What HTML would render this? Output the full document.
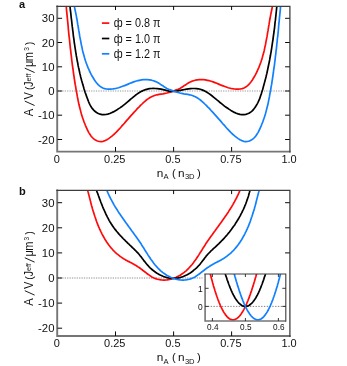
<!DOCTYPE html>
<html><head><meta charset="utf-8"><title>figure</title>
<style>html,body{margin:0;padding:0;background:#fff;}body{width:347px;height:366px;overflow:hidden;font-family:"Liberation Sans",sans-serif;}</style>
</head><body>
<svg width="347" height="366" viewBox="0 0 347 366" style="display:block;will-change:transform;transform:translateZ(0)">
<rect width="347" height="366" fill="#fff"/>
<clipPath id="ca"><rect x="57.5" y="6.0" width="232.2" height="145.6"/></clipPath>
<line x1="57.5" y1="91.0" x2="289.7" y2="91.0" stroke="#9a9a9a" stroke-width="1.05" stroke-dasharray="1.25,1.15"/>
<g clip-path="url(#ca)" fill="none" stroke-width="1.7" stroke-linejoin="round">
<path d="M65.9,2.6 66.3,6.5 66.4,8.6 66.6,10.6 66.8,12.6 67.0,14.6 67.2,16.6 67.4,18.6 67.6,20.6 67.8,22.6 68.0,24.6 68.2,26.6 68.3,28.6 68.5,30.6 68.7,32.6 68.9,34.6 69.1,36.6 69.4,38.6 69.6,40.6 69.8,42.6 70.0,44.6 70.2,46.6 70.4,48.6 70.7,50.6 70.9,52.6 71.1,54.6 71.4,56.6 71.6,58.6 71.8,60.6 72.1,62.6 72.3,64.6 72.6,66.5 72.9,68.5 73.2,70.5 73.4,72.5 73.7,74.5 74.0,76.5 74.3,78.5 74.6,80.5 74.9,82.5 75.2,84.5 75.6,86.4 75.9,88.4 76.2,90.4 76.6,92.4 77.0,94.4 77.3,96.4 77.7,98.3 78.1,100.3 78.5,102.3 78.9,104.3 79.4,106.2 79.9,108.2 80.4,110.1 80.9,112.1 81.4,114.0 82.0,115.9 82.6,117.8 83.3,119.7 83.9,121.6 84.7,123.5 85.4,125.3 86.2,127.2 87.0,129.0 87.9,130.8 88.8,132.6 89.9,134.3 91.0,136.0 92.3,137.5 93.8,138.9 95.5,140.1 97.3,141.0 99.3,141.5 101.3,141.6 103.2,141.3 105.1,140.6 106.9,139.7 108.6,138.6 110.3,137.4 111.9,136.1 113.4,134.8 114.9,133.5 116.3,132.1 117.7,130.6 119.1,129.2 120.4,127.7 121.7,126.2 123.1,124.7 124.4,123.2 125.7,121.6 127.0,120.1 128.4,118.6 129.7,117.1 131.0,115.6 132.4,114.1 133.7,112.6 135.1,111.2 136.4,109.7 137.8,108.2 139.2,106.8 140.5,105.4 142.0,104.0 143.4,102.6 144.9,101.3 146.4,100.0 148.0,98.9 149.7,97.8 151.5,96.8 153.3,96.0 155.2,95.3 157.1,94.8 159.0,94.4 161.0,94.1 163.0,93.8 165.0,93.4 166.9,93.0 168.9,92.5 170.8,91.9 172.7,91.3 174.6,90.6 176.4,89.9 178.2,89.2 179.9,88.4 181.5,87.5 183.0,86.5 184.5,85.4 186.2,84.4 187.9,83.3 189.6,82.3 191.5,81.4 193.4,80.7 195.3,80.2 197.3,79.8 199.3,79.6 201.3,79.6 203.4,79.7 205.4,79.9 207.4,80.3 209.3,80.7 211.2,81.3 213.1,81.9 214.9,82.6 216.8,83.3 218.6,84.1 220.4,84.9 222.3,85.6 224.2,86.3 226.2,87.0 228.2,87.7 230.2,88.2 232.2,88.7 234.3,89.0 236.3,89.1 238.3,89.2 240.3,89.0 242.2,88.6 244.0,88.0 245.7,87.1 247.3,85.9 248.7,84.6 250.1,83.0 251.3,81.4 252.5,79.7 253.5,78.0 254.6,76.3 255.5,74.6 256.4,72.8 257.3,71.0 258.1,69.2 258.9,67.4 259.6,65.5 260.3,63.7 261.0,61.8 261.6,59.9 262.2,58.0 262.7,56.0 263.3,54.1 263.8,52.2 264.3,50.2 264.7,48.2 265.1,46.2 265.6,44.2 265.9,42.2 266.3,40.2 266.7,38.2 267.1,36.2 267.4,34.2 267.7,32.2 268.1,30.2 268.4,28.2 268.7,26.2 269.1,24.2 269.4,22.2 269.7,20.2 270.1,18.3 270.4,16.3 270.8,14.3 271.2,12.4 271.6,10.5 272.0,8.5 272.4,6.6 273.3,2.7" stroke="#ff0a0a"/>
<path d="M69.5,2.6 70.0,6.6 70.2,8.5 70.4,10.5 70.7,12.4 70.9,14.4 71.1,16.4 71.3,18.3 71.6,20.3 71.8,22.3 72.0,24.2 72.2,26.2 72.5,28.2 72.7,30.1 73.0,32.1 73.2,34.1 73.4,36.1 73.7,38.0 74.0,40.0 74.2,42.0 74.5,43.9 74.8,45.9 75.1,47.9 75.4,49.8 75.7,51.8 76.0,53.7 76.3,55.7 76.7,57.6 77.0,59.6 77.4,61.5 77.8,63.5 78.1,65.4 78.5,67.4 79.0,69.3 79.4,71.2 79.8,73.2 80.3,75.1 80.7,77.0 81.2,78.9 81.7,80.8 82.3,82.7 82.8,84.6 83.4,86.5 83.9,88.4 84.5,90.3 85.1,92.2 85.8,94.1 86.4,95.9 87.1,97.8 87.8,99.6 88.5,101.5 89.3,103.3 90.2,105.1 91.1,106.8 92.2,108.4 93.5,109.9 94.9,111.3 96.5,112.5 98.3,113.5 100.1,114.2 102.0,114.6 103.9,114.7 105.9,114.5 107.8,114.1 109.7,113.5 111.5,112.7 113.3,111.9 115.0,110.9 116.7,110.0 118.3,108.9 119.9,107.9 121.5,106.8 123.0,105.6 124.6,104.4 126.1,103.1 127.6,101.8 129.2,100.5 130.7,99.2 132.3,97.9 133.8,96.6 135.4,95.3 137.0,94.1 138.6,93.0 140.3,92.0 142.0,91.1 143.8,90.3 145.6,89.6 147.5,89.1 149.4,88.7 151.3,88.5 153.3,88.4 155.2,88.5 157.2,88.6 159.2,88.8 161.2,89.2 163.2,89.6 165.2,90.1 167.1,90.6 169.0,91.1 171.0,91.4 172.9,91.5 174.8,91.4 176.7,91.1 178.7,90.7 180.6,90.3 182.6,89.9 184.6,89.5 186.6,89.1 188.6,88.8 190.6,88.6 192.6,88.5 194.5,88.5 196.5,88.6 198.4,88.8 200.2,89.3 202.1,89.9 203.8,90.6 205.6,91.5 207.3,92.5 209.0,93.6 210.6,94.8 212.2,96.0 213.8,97.3 215.4,98.6 216.9,99.9 218.5,101.2 220.0,102.5 221.5,103.7 223.0,104.9 224.5,106.1 226.1,107.2 227.7,108.3 229.3,109.4 230.9,110.4 232.7,111.4 234.4,112.4 236.3,113.2 238.1,113.9 240.0,114.4 241.9,114.7 243.9,114.7 245.8,114.4 247.6,113.8 249.4,113.0 251.0,111.9 252.5,110.6 253.8,109.1 255.0,107.5 256.1,105.8 257.1,104.1 258.0,102.3 258.8,100.6 259.6,98.9 260.2,97.1 260.8,95.3 261.4,93.6 261.9,91.8 262.5,90.0 263.0,88.2 263.5,86.3 264.0,84.5 264.5,82.6 265.0,80.8 265.5,78.9 266.0,77.0 266.4,75.1 266.9,73.2 267.3,71.3 267.7,69.4 268.1,67.5 268.5,65.5 268.9,63.6 269.3,61.7 269.7,59.7 270.0,57.7 270.4,55.8 270.7,53.8 271.1,51.8 271.4,49.9 271.7,47.9 272.0,45.9 272.3,43.9 272.6,41.9 272.9,40.0 273.2,38.0 273.4,36.0 273.7,34.0 274.0,32.0 274.2,30.1 274.5,28.1 274.7,26.1 274.9,24.1 275.1,22.2 275.4,20.2 275.6,18.2 275.8,16.3 276.0,14.3 276.2,12.4 276.4,10.5 276.6,8.5 276.8,6.6 277.1,2.6" stroke="#000"/>
<path d="M73.5,2.7 74.4,6.6 74.8,8.5 75.2,10.5 75.6,12.4 76.0,14.3 76.4,16.3 76.7,18.3 77.1,20.2 77.4,22.2 77.7,24.2 78.1,26.2 78.4,28.2 78.7,30.2 79.1,32.2 79.4,34.2 79.7,36.2 80.1,38.2 80.5,40.2 80.9,42.2 81.2,44.2 81.7,46.2 82.1,48.2 82.5,50.2 83.0,52.2 83.5,54.1 84.1,56.0 84.6,58.0 85.2,59.9 85.8,61.8 86.5,63.7 87.2,65.5 87.9,67.4 88.7,69.2 89.5,71.0 90.4,72.8 91.3,74.6 92.2,76.3 93.3,78.0 94.3,79.7 95.5,81.4 96.7,83.0 98.1,84.6 99.5,85.9 101.1,87.1 102.8,88.0 104.6,88.6 106.5,89.0 108.5,89.2 110.5,89.1 112.5,89.0 114.6,88.7 116.6,88.2 118.6,87.7 120.6,87.0 122.6,86.3 124.5,85.6 126.4,84.9 128.2,84.1 130.0,83.3 131.9,82.6 133.7,81.9 135.6,81.3 137.5,80.7 139.4,80.3 141.4,79.9 143.4,79.7 145.5,79.6 147.5,79.6 149.5,79.8 151.5,80.2 153.4,80.7 155.3,81.4 157.2,82.3 158.9,83.3 160.6,84.4 162.3,85.4 163.8,86.5 165.3,87.5 166.9,88.4 168.6,89.2 170.4,89.9 172.2,90.6 174.1,91.3 176.0,91.9 177.9,92.5 179.9,93.0 181.8,93.4 183.8,93.8 185.8,94.1 187.8,94.4 189.7,94.8 191.6,95.3 193.5,96.0 195.3,96.8 197.1,97.8 198.8,98.9 200.4,100.0 201.9,101.3 203.4,102.6 204.8,104.0 206.3,105.4 207.6,106.8 209.0,108.2 210.4,109.7 211.7,111.2 213.1,112.6 214.4,114.1 215.8,115.6 217.1,117.1 218.4,118.6 219.8,120.1 221.1,121.6 222.4,123.2 223.7,124.7 225.1,126.2 226.4,127.7 227.7,129.2 229.1,130.6 230.5,132.1 231.9,133.5 233.4,134.8 234.9,136.1 236.5,137.4 238.2,138.6 239.9,139.7 241.7,140.6 243.6,141.3 245.5,141.6 247.5,141.5 249.5,141.0 251.3,140.1 253.0,138.9 254.5,137.5 255.8,136.0 256.9,134.3 258.0,132.6 258.9,130.8 259.8,129.0 260.6,127.2 261.4,125.3 262.1,123.5 262.9,121.6 263.5,119.7 264.2,117.8 264.8,115.9 265.4,114.0 265.9,112.1 266.4,110.1 266.9,108.2 267.4,106.2 267.9,104.3 268.3,102.3 268.7,100.3 269.1,98.3 269.5,96.4 269.8,94.4 270.2,92.4 270.6,90.4 270.9,88.4 271.2,86.4 271.6,84.5 271.9,82.5 272.2,80.5 272.5,78.5 272.8,76.5 273.1,74.5 273.4,72.5 273.6,70.5 273.9,68.5 274.2,66.5 274.5,64.6 274.7,62.6 275.0,60.6 275.2,58.6 275.4,56.6 275.7,54.6 275.9,52.6 276.1,50.6 276.4,48.6 276.6,46.6 276.8,44.6 277.0,42.6 277.2,40.6 277.4,38.6 277.7,36.6 277.9,34.6 278.1,32.6 278.3,30.6 278.5,28.6 278.6,26.6 278.8,24.6 279.0,22.6 279.2,20.6 279.4,18.6 279.6,16.6 279.8,14.6 280.0,12.6 280.2,10.6 280.4,8.6 280.5,6.5 280.9,2.6" stroke="#1080ff"/>
</g>
<path d="M57.2,5.4 V151.6 H290.59999999999997" fill="none" stroke="#757575" stroke-width="1.9"/>
<path d="M56.3,6.25 H289.9 V152.5" fill="none" stroke="#3c3c3c" stroke-width="1.25"/>
<line x1="57.5" y1="18.3" x2="62.1" y2="18.3" stroke="#0a0a0a" stroke-width="1.0"/>
<line x1="289.7" y1="18.3" x2="285.09999999999997" y2="18.3" stroke="#0a0a0a" stroke-width="1.0"/>
<text x="54.5" y="22.4" text-anchor="end" font-size="11.8" textLength="12.66" lengthAdjust="spacingAndGlyphs" font-family="Liberation Sans, sans-serif" fill="#111">30</text>
<line x1="57.5" y1="42.5" x2="62.1" y2="42.5" stroke="#0a0a0a" stroke-width="1.0"/>
<line x1="289.7" y1="42.5" x2="285.09999999999997" y2="42.5" stroke="#0a0a0a" stroke-width="1.0"/>
<text x="54.5" y="46.6" text-anchor="end" font-size="11.8" textLength="12.66" lengthAdjust="spacingAndGlyphs" font-family="Liberation Sans, sans-serif" fill="#111">20</text>
<line x1="57.5" y1="66.8" x2="62.1" y2="66.8" stroke="#0a0a0a" stroke-width="1.0"/>
<line x1="289.7" y1="66.8" x2="285.09999999999997" y2="66.8" stroke="#0a0a0a" stroke-width="1.0"/>
<text x="54.5" y="70.9" text-anchor="end" font-size="11.8" textLength="12.66" lengthAdjust="spacingAndGlyphs" font-family="Liberation Sans, sans-serif" fill="#111">10</text>
<line x1="57.5" y1="91.0" x2="62.1" y2="91.0" stroke="#0a0a0a" stroke-width="1.0"/>
<line x1="289.7" y1="91.0" x2="285.09999999999997" y2="91.0" stroke="#0a0a0a" stroke-width="1.0"/>
<text x="54.5" y="95.1" text-anchor="end" font-size="11.8" textLength="6.33" lengthAdjust="spacingAndGlyphs" font-family="Liberation Sans, sans-serif" fill="#111">0</text>
<line x1="57.5" y1="115.2" x2="62.1" y2="115.2" stroke="#0a0a0a" stroke-width="1.0"/>
<line x1="289.7" y1="115.2" x2="285.09999999999997" y2="115.2" stroke="#0a0a0a" stroke-width="1.0"/>
<text x="54.5" y="119.3" text-anchor="end" font-size="11.8" textLength="16.45" lengthAdjust="spacingAndGlyphs" font-family="Liberation Sans, sans-serif" fill="#111">-10</text>
<line x1="57.5" y1="139.5" x2="62.1" y2="139.5" stroke="#0a0a0a" stroke-width="1.0"/>
<line x1="289.7" y1="139.5" x2="285.09999999999997" y2="139.5" stroke="#0a0a0a" stroke-width="1.0"/>
<text x="54.5" y="143.6" text-anchor="end" font-size="11.8" textLength="16.45" lengthAdjust="spacingAndGlyphs" font-family="Liberation Sans, sans-serif" fill="#111">-20</text>
<text x="56.8" y="163.4" text-anchor="middle" font-size="11.8" textLength="6.10" lengthAdjust="spacingAndGlyphs" font-family="Liberation Sans, sans-serif" fill="#111">0</text>
<line x1="115.5" y1="151.6" x2="115.5" y2="147.0" stroke="#0a0a0a" stroke-width="1.0"/>
<line x1="115.5" y1="6.0" x2="115.5" y2="10.0" stroke="#0a0a0a" stroke-width="1.0"/>
<text x="114.8" y="163.4" text-anchor="middle" font-size="11.8" textLength="21.36" lengthAdjust="spacingAndGlyphs" font-family="Liberation Sans, sans-serif" fill="#111">0.25</text>
<line x1="173.6" y1="151.6" x2="173.6" y2="147.0" stroke="#0a0a0a" stroke-width="1.0"/>
<line x1="173.6" y1="6.0" x2="173.6" y2="10.0" stroke="#0a0a0a" stroke-width="1.0"/>
<text x="172.9" y="163.4" text-anchor="middle" font-size="11.8" textLength="15.25" lengthAdjust="spacingAndGlyphs" font-family="Liberation Sans, sans-serif" fill="#111">0.5</text>
<line x1="231.6" y1="151.6" x2="231.6" y2="147.0" stroke="#0a0a0a" stroke-width="1.0"/>
<line x1="231.6" y1="6.0" x2="231.6" y2="10.0" stroke="#0a0a0a" stroke-width="1.0"/>
<text x="230.9" y="163.4" text-anchor="middle" font-size="11.8" textLength="21.36" lengthAdjust="spacingAndGlyphs" font-family="Liberation Sans, sans-serif" fill="#111">0.75</text>
<text x="289.0" y="163.4" text-anchor="middle" font-size="11.8" textLength="15.25" lengthAdjust="spacingAndGlyphs" font-family="Liberation Sans, sans-serif" fill="#111">1.0</text>
<text x="160.1" y="176.6" text-anchor="middle" font-size="11.8" font-family="Liberation Sans, sans-serif" fill="#111">n</text>
<text x="166.0" y="179.2" text-anchor="middle" font-size="7.6" font-family="Liberation Sans, sans-serif" fill="#111">A</text>
<text x="173.8" y="176.6" text-anchor="middle" font-size="11.4" font-family="Liberation Sans, sans-serif" fill="#111">(</text>
<text x="181.3" y="176.6" text-anchor="middle" font-size="11.8" font-family="Liberation Sans, sans-serif" fill="#111">n</text>
<text x="189.75" y="179.2" text-anchor="middle" font-size="7.6" font-family="Liberation Sans, sans-serif" fill="#111">3D</text>
<text x="198.85" y="176.6" text-anchor="middle" font-size="11.4" font-family="Liberation Sans, sans-serif" fill="#111">)</text>
<text transform="translate(33.2,112.5) rotate(-90) scale(0.91,1)" text-anchor="middle" font-size="12.2" font-family="Liberation Sans, sans-serif" fill="#111">A</text>
<text transform="translate(33.2,95.7) rotate(-90) scale(0.91,1)" text-anchor="middle" font-size="12.2" font-family="Liberation Sans, sans-serif" fill="#111">V</text>
<text transform="translate(33.2,88.2) rotate(-90) scale(0.91,1)" text-anchor="middle" font-size="11.6" font-family="Liberation Sans, sans-serif" fill="#111">(</text>
<text transform="translate(33.2,84.2) rotate(-90) scale(0.91,1)" text-anchor="middle" font-size="12.2" font-family="Liberation Sans, sans-serif" fill="#111">J</text>
<text transform="translate(30.5,77.5) rotate(-90) scale(0.91,1)" text-anchor="middle" font-size="8.0" font-family="Liberation Sans, sans-serif" fill="#111">eff</text>
<text transform="translate(33.2,63.8) rotate(-90) scale(0.91,1)" text-anchor="middle" font-size="12.2" font-family="Liberation Sans, sans-serif" fill="#111">μ</text>
<text transform="translate(33.2,56.5) rotate(-90) scale(0.91,1)" text-anchor="middle" font-size="12.2" font-family="Liberation Sans, sans-serif" fill="#111">m</text>
<text transform="translate(28.9,49.0) rotate(-90) scale(0.91,1)" text-anchor="middle" font-size="7.2" font-family="Liberation Sans, sans-serif" fill="#111">3</text>
<text transform="translate(33.2,43.5) rotate(-90) scale(0.91,1)" text-anchor="middle" font-size="11.6" font-family="Liberation Sans, sans-serif" fill="#111">)</text>
<line x1="34.6" y1="105.50" x2="24.8" y2="101.10" stroke="#111" stroke-width="0.95"/>
<line x1="34.6" y1="72.55" x2="24.8" y2="68.15" stroke="#111" stroke-width="0.95"/>
<clipPath id="cb"><rect x="57.5" y="190.1" width="232.2" height="145.9"/></clipPath>
<line x1="57.5" y1="278.0" x2="202.5" y2="278.0" stroke="#6a6a6a" stroke-width="0.75" stroke-dasharray="1.25,1.15"/>
<g clip-path="url(#cb)" fill="none" stroke-width="1.7" stroke-linejoin="round">
<path d="M87.0,187.4 87.9,191.3 88.2,192.4 88.5,193.6 88.8,194.7 89.1,195.9 89.4,197.1 89.7,198.2 90.0,199.4 90.3,200.6 90.6,201.8 90.9,203.0 91.2,204.2 91.5,205.4 91.9,206.6 92.2,207.8 92.5,209.0 92.9,210.2 93.3,211.4 93.6,212.6 94.0,213.8 94.4,215.0 94.8,216.2 95.2,217.3 95.6,218.5 96.0,219.7 96.4,220.9 96.8,222.1 97.3,223.3 97.7,224.4 98.2,225.6 98.7,226.8 99.2,227.9 99.7,229.1 100.2,230.2 100.7,231.3 101.3,232.4 101.8,233.6 102.4,234.7 103.0,235.7 103.5,236.8 104.2,237.9 104.8,239.0 105.4,240.0 106.1,241.0 106.7,242.0 107.4,243.1 108.1,244.0 108.8,245.0 109.6,246.0 110.3,246.9 111.1,247.9 111.9,248.8 112.7,249.7 113.5,250.6 114.4,251.4 115.2,252.3 116.1,253.1 117.0,253.9 118.0,254.7 118.9,255.4 119.9,256.2 120.9,256.9 121.9,257.6 122.9,258.3 124.0,258.9 125.0,259.6 126.1,260.2 127.2,260.8 128.3,261.4 129.5,261.9 130.6,262.5 131.7,263.1 132.8,263.7 133.9,264.3 135.0,264.9 136.0,265.5 137.1,266.2 138.1,266.9 139.1,267.5 140.1,268.2 141.1,269.0 142.1,269.7 143.0,270.5 144.0,271.2 145.0,272.0 145.9,272.7 146.9,273.5 147.9,274.2 148.9,274.9 149.9,275.6 150.9,276.3 151.9,276.9 153.0,277.5 154.0,278.0 155.1,278.4 156.3,278.9 157.4,279.2 158.6,279.5 159.8,279.7 161.0,279.9 162.2,280.0 163.4,280.1 164.7,280.1 165.9,280.0 167.1,279.9 168.4,279.7 169.6,279.4 170.9,279.1 172.1,278.8 173.3,278.4 174.5,277.9 175.7,277.5 176.8,276.9 178.0,276.4 179.1,275.8 180.2,275.2 181.2,274.5 182.2,273.8 183.2,273.1 184.2,272.4 185.1,271.6 186.1,270.8 187.0,270.0 187.8,269.2 188.7,268.3 189.5,267.4 190.3,266.5 191.1,265.6 191.9,264.7 192.7,263.7 193.4,262.8 194.1,261.8 194.8,260.8 195.6,259.8 196.3,258.8 196.9,257.8 197.6,256.7 198.3,255.7 199.0,254.6 199.6,253.6 200.3,252.5 201.0,251.5 201.6,250.4 202.3,249.4 202.9,248.3 203.6,247.3 204.3,246.2 205.0,245.2 205.6,244.1 206.3,243.1 207.0,242.1 207.7,241.0 208.4,240.0 209.1,239.0 209.8,238.0 210.5,237.0 211.2,236.0 212.0,235.0 212.7,234.0 213.4,233.0 214.1,232.0 214.9,231.0 215.6,230.0 216.3,229.0 217.0,228.0 217.8,227.0 218.5,226.0 219.2,225.0 219.9,224.0 220.7,223.0 221.4,222.0 222.1,221.0 222.8,220.0 223.5,219.0 224.2,218.0 224.9,217.0 225.6,216.0 226.3,215.0 227.0,213.9 227.7,212.9 228.4,211.9 229.0,210.9 229.7,209.8 230.4,208.8 231.0,207.7 231.7,206.7 232.3,205.6 232.9,204.6 233.5,203.5 234.1,202.4 234.7,201.3 235.3,200.2 235.9,199.1 236.5,198.0 237.0,196.9 237.5,195.8 238.1,194.7 238.6,193.5 239.1,192.4 239.6,191.2 241.2,187.5" stroke="#ff0a0a"/>
<path d="M95.5,187.5 96.8,191.2 97.2,192.4 97.7,193.5 98.1,194.6 98.5,195.8 98.9,196.9 99.3,198.0 99.7,199.2 100.2,200.3 100.6,201.5 101.0,202.6 101.5,203.7 101.9,204.9 102.4,206.0 102.8,207.1 103.3,208.3 103.8,209.4 104.3,210.5 104.8,211.6 105.3,212.7 105.8,213.9 106.3,215.0 106.9,216.0 107.4,217.1 108.0,218.2 108.6,219.3 109.1,220.3 109.7,221.4 110.4,222.4 111.0,223.5 111.7,224.5 112.3,225.5 113.0,226.5 113.7,227.5 114.4,228.4 115.1,229.4 115.9,230.4 116.6,231.3 117.4,232.2 118.2,233.1 119.0,234.1 119.8,235.0 120.6,235.9 121.5,236.7 122.3,237.6 123.1,238.5 124.0,239.4 124.9,240.2 125.7,241.1 126.6,241.9 127.5,242.8 128.3,243.6 129.2,244.4 130.1,245.3 131.0,246.1 131.8,247.0 132.7,247.8 133.6,248.6 134.4,249.5 135.3,250.3 136.1,251.2 137.0,252.1 137.8,252.9 138.6,253.8 139.4,254.7 140.1,255.7 140.9,256.6 141.6,257.5 142.3,258.5 143.1,259.5 143.8,260.4 144.5,261.4 145.3,262.3 146.0,263.3 146.8,264.2 147.6,265.1 148.4,266.0 149.2,266.9 150.1,267.8 151.0,268.6 152.0,269.5 152.9,270.3 153.9,271.0 154.9,271.8 155.9,272.5 157.0,273.2 158.0,273.8 159.1,274.4 160.2,275.0 161.3,275.5 162.4,276.0 163.5,276.5 164.7,276.9 165.8,277.2 167.0,277.6 168.1,277.8 169.3,278.1 170.5,278.2 171.6,278.3 172.8,278.4 174.0,278.4 175.2,278.3 176.4,278.2 177.5,278.1 178.7,277.8 179.8,277.6 181.0,277.2 182.1,276.9 183.3,276.5 184.4,276.0 185.5,275.5 186.6,275.0 187.7,274.4 188.8,273.8 189.8,273.2 190.9,272.5 191.9,271.8 192.9,271.0 193.8,270.2 194.8,269.4 195.7,268.6 196.6,267.8 197.5,266.9 198.3,266.0 199.2,265.1 200.0,264.2 200.7,263.2 201.5,262.3 202.2,261.3 202.9,260.4 203.7,259.4 204.4,258.4 205.1,257.5 205.9,256.6 206.6,255.6 207.4,254.7 208.2,253.8 209.0,253.0 209.9,252.1 210.7,251.2 211.6,250.4 212.5,249.6 213.4,248.7 214.3,247.9 215.2,247.1 216.0,246.3 216.9,245.5 217.8,244.6 218.7,243.8 219.6,242.9 220.4,242.1 221.3,241.2 222.1,240.3 223.0,239.5 223.8,238.6 224.6,237.7 225.4,236.8 226.2,235.9 227.0,235.0 227.8,234.0 228.5,233.1 229.3,232.2 230.0,231.2 230.8,230.2 231.5,229.3 232.2,228.3 232.9,227.3 233.6,226.3 234.3,225.4 235.0,224.4 235.6,223.3 236.3,222.3 236.9,221.3 237.6,220.3 238.2,219.2 238.8,218.2 239.4,217.1 240.0,216.1 240.6,215.0 241.1,213.9 241.7,212.9 242.2,211.8 242.7,210.7 243.3,209.6 243.8,208.5 244.3,207.4 244.7,206.2 245.2,205.1 245.7,204.0 246.1,202.8 246.5,201.7 246.9,200.5 247.3,199.4 247.7,198.2 248.1,197.1 248.5,195.9 248.8,194.7 249.1,193.5 249.5,192.3 249.8,191.1 250.8,187.2" stroke="#000"/>
<path d="M105.6,187.5 107.2,191.2 107.7,192.4 108.2,193.5 108.7,194.7 109.3,195.8 109.8,196.9 110.3,198.0 110.9,199.1 111.5,200.2 112.1,201.3 112.7,202.4 113.3,203.5 113.9,204.6 114.5,205.6 115.1,206.7 115.8,207.7 116.4,208.8 117.1,209.8 117.8,210.9 118.4,211.9 119.1,212.9 119.8,213.9 120.5,215.0 121.2,216.0 121.9,217.0 122.6,218.0 123.3,219.0 124.0,220.0 124.7,221.0 125.4,222.0 126.1,223.0 126.9,224.0 127.6,225.0 128.3,226.0 129.0,227.0 129.8,228.0 130.5,229.0 131.2,230.0 131.9,231.0 132.7,232.0 133.4,233.0 134.1,234.0 134.8,235.0 135.6,236.0 136.3,237.0 137.0,238.0 137.7,239.0 138.4,240.0 139.1,241.0 139.8,242.1 140.5,243.1 141.2,244.1 141.8,245.2 142.5,246.2 143.2,247.3 143.9,248.3 144.5,249.4 145.2,250.4 145.8,251.5 146.5,252.5 147.2,253.6 147.8,254.6 148.5,255.7 149.2,256.7 149.9,257.8 150.5,258.8 151.2,259.8 152.0,260.8 152.7,261.8 153.4,262.8 154.1,263.7 154.9,264.7 155.7,265.6 156.5,266.5 157.3,267.4 158.1,268.3 159.0,269.2 159.8,270.0 160.7,270.8 161.7,271.6 162.6,272.4 163.6,273.1 164.6,273.8 165.6,274.5 166.6,275.2 167.7,275.8 168.8,276.4 170.0,276.9 171.1,277.5 172.3,277.9 173.5,278.4 174.7,278.8 175.9,279.1 177.2,279.4 178.4,279.7 179.7,279.9 180.9,280.0 182.1,280.1 183.4,280.1 184.6,280.0 185.8,279.9 187.0,279.7 188.2,279.5 189.4,279.2 190.5,278.9 191.7,278.4 192.8,278.0 193.8,277.5 194.9,276.9 195.9,276.3 196.9,275.6 197.9,274.9 198.9,274.2 199.9,273.5 200.9,272.7 201.8,272.0 202.8,271.2 203.8,270.5 204.7,269.7 205.7,269.0 206.7,268.2 207.7,267.5 208.7,266.9 209.7,266.2 210.8,265.5 211.8,264.9 212.9,264.3 214.0,263.7 215.1,263.1 216.2,262.5 217.3,261.9 218.5,261.4 219.6,260.8 220.7,260.2 221.8,259.6 222.8,258.9 223.9,258.3 224.9,257.6 225.9,256.9 226.9,256.2 227.9,255.4 228.8,254.7 229.8,253.9 230.7,253.1 231.6,252.3 232.4,251.4 233.3,250.6 234.1,249.7 234.9,248.8 235.7,247.9 236.5,246.9 237.2,246.0 238.0,245.0 238.7,244.0 239.4,243.1 240.1,242.0 240.7,241.0 241.4,240.0 242.0,239.0 242.6,237.9 243.3,236.8 243.8,235.7 244.4,234.7 245.0,233.6 245.5,232.4 246.1,231.3 246.6,230.2 247.1,229.1 247.6,227.9 248.1,226.8 248.6,225.6 249.1,224.4 249.5,223.3 250.0,222.1 250.4,220.9 250.8,219.7 251.2,218.5 251.6,217.3 252.0,216.2 252.4,215.0 252.8,213.8 253.2,212.6 253.5,211.4 253.9,210.2 254.3,209.0 254.6,207.8 254.9,206.6 255.3,205.4 255.6,204.2 255.9,203.0 256.2,201.8 256.5,200.6 256.8,199.4 257.1,198.2 257.4,197.1 257.7,195.9 258.0,194.7 258.3,193.6 258.6,192.4 258.9,191.3 259.8,187.4" stroke="#1080ff"/>
</g>
<path d="M57.2,189.5 V336.0 H290.59999999999997" fill="none" stroke="#757575" stroke-width="1.9"/>
<path d="M56.3,190.35 H289.9 V336.9" fill="none" stroke="#3c3c3c" stroke-width="1.25"/>
<line x1="57.5" y1="202.7" x2="62.1" y2="202.7" stroke="#0a0a0a" stroke-width="1.0"/>
<line x1="289.7" y1="202.7" x2="285.09999999999997" y2="202.7" stroke="#0a0a0a" stroke-width="1.0"/>
<text x="54.5" y="206.8" text-anchor="end" font-size="11.8" textLength="12.66" lengthAdjust="spacingAndGlyphs" font-family="Liberation Sans, sans-serif" fill="#111">30</text>
<line x1="57.5" y1="227.8" x2="62.1" y2="227.8" stroke="#0a0a0a" stroke-width="1.0"/>
<line x1="289.7" y1="227.8" x2="285.09999999999997" y2="227.8" stroke="#0a0a0a" stroke-width="1.0"/>
<text x="54.5" y="231.9" text-anchor="end" font-size="11.8" textLength="12.66" lengthAdjust="spacingAndGlyphs" font-family="Liberation Sans, sans-serif" fill="#111">20</text>
<line x1="57.5" y1="252.9" x2="62.1" y2="252.9" stroke="#0a0a0a" stroke-width="1.0"/>
<line x1="289.7" y1="252.9" x2="285.09999999999997" y2="252.9" stroke="#0a0a0a" stroke-width="1.0"/>
<text x="54.5" y="257.0" text-anchor="end" font-size="11.8" textLength="12.66" lengthAdjust="spacingAndGlyphs" font-family="Liberation Sans, sans-serif" fill="#111">10</text>
<line x1="57.5" y1="278.0" x2="62.1" y2="278.0" stroke="#0a0a0a" stroke-width="1.0"/>
<text x="54.5" y="282.1" text-anchor="end" font-size="11.8" textLength="6.33" lengthAdjust="spacingAndGlyphs" font-family="Liberation Sans, sans-serif" fill="#111">0</text>
<line x1="57.5" y1="303.1" x2="62.1" y2="303.1" stroke="#0a0a0a" stroke-width="1.0"/>
<text x="54.5" y="307.2" text-anchor="end" font-size="11.8" textLength="16.45" lengthAdjust="spacingAndGlyphs" font-family="Liberation Sans, sans-serif" fill="#111">-10</text>
<line x1="57.5" y1="328.2" x2="62.1" y2="328.2" stroke="#0a0a0a" stroke-width="1.0"/>
<text x="54.5" y="332.3" text-anchor="end" font-size="11.8" textLength="16.45" lengthAdjust="spacingAndGlyphs" font-family="Liberation Sans, sans-serif" fill="#111">-20</text>
<text x="56.8" y="347.0" text-anchor="middle" font-size="11.8" textLength="6.10" lengthAdjust="spacingAndGlyphs" font-family="Liberation Sans, sans-serif" fill="#111">0</text>
<line x1="115.5" y1="336.0" x2="115.5" y2="331.4" stroke="#0a0a0a" stroke-width="1.0"/>
<line x1="115.5" y1="190.1" x2="115.5" y2="194.1" stroke="#0a0a0a" stroke-width="1.0"/>
<text x="114.8" y="347.0" text-anchor="middle" font-size="11.8" textLength="21.36" lengthAdjust="spacingAndGlyphs" font-family="Liberation Sans, sans-serif" fill="#111">0.25</text>
<line x1="173.6" y1="336.0" x2="173.6" y2="331.4" stroke="#0a0a0a" stroke-width="1.0"/>
<line x1="173.6" y1="190.1" x2="173.6" y2="194.1" stroke="#0a0a0a" stroke-width="1.0"/>
<text x="172.9" y="347.0" text-anchor="middle" font-size="11.8" textLength="15.25" lengthAdjust="spacingAndGlyphs" font-family="Liberation Sans, sans-serif" fill="#111">0.5</text>
<line x1="231.6" y1="336.0" x2="231.6" y2="331.4" stroke="#0a0a0a" stroke-width="1.0"/>
<line x1="231.6" y1="190.1" x2="231.6" y2="194.1" stroke="#0a0a0a" stroke-width="1.0"/>
<text x="230.9" y="347.0" text-anchor="middle" font-size="11.8" textLength="21.36" lengthAdjust="spacingAndGlyphs" font-family="Liberation Sans, sans-serif" fill="#111">0.75</text>
<text x="289.0" y="347.0" text-anchor="middle" font-size="11.8" textLength="15.25" lengthAdjust="spacingAndGlyphs" font-family="Liberation Sans, sans-serif" fill="#111">1.0</text>
<text x="160.1" y="361.0" text-anchor="middle" font-size="11.8" font-family="Liberation Sans, sans-serif" fill="#111">n</text>
<text x="166.0" y="363.6" text-anchor="middle" font-size="7.6" font-family="Liberation Sans, sans-serif" fill="#111">A</text>
<text x="173.8" y="361.0" text-anchor="middle" font-size="11.4" font-family="Liberation Sans, sans-serif" fill="#111">(</text>
<text x="181.3" y="361.0" text-anchor="middle" font-size="11.8" font-family="Liberation Sans, sans-serif" fill="#111">n</text>
<text x="189.75" y="363.6" text-anchor="middle" font-size="7.6" font-family="Liberation Sans, sans-serif" fill="#111">3D</text>
<text x="198.85" y="361.0" text-anchor="middle" font-size="11.4" font-family="Liberation Sans, sans-serif" fill="#111">)</text>
<text transform="translate(33.2,302.1) rotate(-90) scale(0.91,1)" text-anchor="middle" font-size="12.2" font-family="Liberation Sans, sans-serif" fill="#111">A</text>
<text transform="translate(33.2,285.3) rotate(-90) scale(0.91,1)" text-anchor="middle" font-size="12.2" font-family="Liberation Sans, sans-serif" fill="#111">V</text>
<text transform="translate(33.2,277.9) rotate(-90) scale(0.91,1)" text-anchor="middle" font-size="11.6" font-family="Liberation Sans, sans-serif" fill="#111">(</text>
<text transform="translate(33.2,273.8) rotate(-90) scale(0.91,1)" text-anchor="middle" font-size="12.2" font-family="Liberation Sans, sans-serif" fill="#111">J</text>
<text transform="translate(30.5,267.1) rotate(-90) scale(0.91,1)" text-anchor="middle" font-size="8.0" font-family="Liberation Sans, sans-serif" fill="#111">eff</text>
<text transform="translate(33.2,253.3) rotate(-90) scale(0.91,1)" text-anchor="middle" font-size="12.2" font-family="Liberation Sans, sans-serif" fill="#111">μ</text>
<text transform="translate(33.2,246.1) rotate(-90) scale(0.91,1)" text-anchor="middle" font-size="12.2" font-family="Liberation Sans, sans-serif" fill="#111">m</text>
<text transform="translate(28.9,238.6) rotate(-90) scale(0.91,1)" text-anchor="middle" font-size="7.2" font-family="Liberation Sans, sans-serif" fill="#111">3</text>
<text transform="translate(33.2,233.1) rotate(-90) scale(0.91,1)" text-anchor="middle" font-size="11.6" font-family="Liberation Sans, sans-serif" fill="#111">)</text>
<line x1="34.6" y1="295.10" x2="24.8" y2="290.70" stroke="#111" stroke-width="0.95"/>
<line x1="34.6" y1="262.15" x2="24.8" y2="257.75" stroke="#111" stroke-width="0.95"/>
<text x="19.1" y="7.5" font-size="11" font-weight="bold" font-family="Liberation Sans, sans-serif" fill="#111">a</text>
<text x="19" y="195.3" font-size="11" font-weight="bold" font-family="Liberation Sans, sans-serif" fill="#111">b</text>
<line x1="101.9" y1="23.1" x2="109.3" y2="23.1" stroke="#ff0a0a" stroke-width="1.7"/>
<text x="113.7" y="27.1" font-size="12" textLength="46.8" lengthAdjust="spacingAndGlyphs" font-family="Liberation Sans, sans-serif" fill="#111">ф = 0.8 π</text>
<line x1="101.9" y1="38.5" x2="109.3" y2="38.5" stroke="#000" stroke-width="1.7"/>
<text x="113.7" y="42.5" font-size="12" textLength="46.8" lengthAdjust="spacingAndGlyphs" font-family="Liberation Sans, sans-serif" fill="#111">ф = 1.0 π</text>
<line x1="101.9" y1="53.8" x2="109.3" y2="53.8" stroke="#1080ff" stroke-width="1.7"/>
<text x="113.7" y="57.8" font-size="12" textLength="46.8" lengthAdjust="spacingAndGlyphs" font-family="Liberation Sans, sans-serif" fill="#111">ф = 1.2 π</text>
<rect x="205.1" y="274.0" width="80.70000000000002" height="47.0" fill="#fff"/>
<clipPath id="ci"><rect x="205.1" y="274.0" width="80.70000000000002" height="47.0"/></clipPath>
<line x1="205.1" y1="306.4" x2="285.8" y2="306.4" stroke="#777" stroke-width="0.9" stroke-dasharray="1.4,1.4"/>
<g clip-path="url(#ci)" fill="none" stroke-width="1.7">
<path d="M207.0,260.4 207.5,262.5 208.0,264.5 208.4,266.4 208.9,268.4 209.4,270.3 209.8,272.1 210.3,274.0 210.8,275.8 211.2,277.6 211.7,279.3 212.2,281.0 212.6,282.7 213.1,284.3 213.5,285.9 214.0,287.5 214.5,289.0 214.9,290.5 215.4,292.0 215.9,293.4 216.3,294.8 216.8,296.2 217.3,297.5 217.7,298.8 218.2,300.1 218.7,301.3 219.1,302.5 219.6,303.6 220.1,304.7 220.5,305.8 221.0,306.8 221.5,307.8 221.9,308.7 222.4,309.6 222.8,310.5 223.3,311.4 223.8,312.2 224.2,312.9 224.7,313.6 225.2,314.3 225.6,314.9 226.1,315.5 226.6,316.1 227.0,316.6 227.5,317.1 228.0,317.6 228.4,318.0 228.9,318.3 229.4,318.7 229.8,318.9 230.3,319.2 230.8,319.4 231.2,319.6 231.7,319.7 232.1,319.8 232.6,319.8 233.1,319.9 233.5,319.8 234.0,319.8 234.5,319.7 234.9,319.5 235.4,319.3 235.9,319.1 236.3,318.8 236.8,318.6 237.3,318.2 237.7,317.8 238.2,317.4 238.7,317.0 239.1,316.5 239.6,316.0 240.1,315.4 240.5,314.8 241.0,314.2 241.4,313.5 241.9,312.8 242.4,312.1 242.8,311.3 243.3,310.5 243.8,309.6 244.2,308.8 244.7,307.8 245.2,306.9 245.6,305.9 246.1,304.9 246.6,303.8 247.0,302.8 247.5,301.6 248.0,300.5 248.4,299.3 248.9,298.1 249.4,296.9 249.8,295.6 250.3,294.3 250.7,293.0 251.2,291.6 251.7,290.2 252.1,288.8 252.6,287.3 253.1,285.9 253.5,284.4 254.0,282.8 254.5,281.3 254.9,279.7 255.4,278.1 255.9,276.5 256.3,274.8 256.8,273.1 257.3,271.4 257.7,269.7 258.2,268.0 258.7,266.2 259.1,264.4 259.6,262.6 260.0,260.8" stroke="#ff0a0a"/>
<path d="M221.9,261.6 222.4,263.4 222.8,265.1 223.3,266.9 223.8,268.5 224.2,270.2 224.7,271.8 225.2,273.3 225.6,274.9 226.1,276.4 226.6,277.8 227.0,279.2 227.5,280.6 228.0,281.9 228.4,283.2 228.9,284.5 229.4,285.7 229.8,286.9 230.3,288.1 230.8,289.2 231.2,290.3 231.7,291.3 232.1,292.3 232.6,293.3 233.1,294.3 233.5,295.2 234.0,296.0 234.5,296.9 234.9,297.7 235.4,298.4 235.9,299.2 236.3,299.8 236.8,300.5 237.3,301.1 237.7,301.7 238.2,302.3 238.7,302.8 239.1,303.3 239.6,303.7 240.1,304.1 240.5,304.5 241.0,304.8 241.4,305.2 241.9,305.4 242.4,305.7 242.8,305.9 243.3,306.1 243.8,306.2 244.2,306.3 244.7,306.4 245.2,306.4 245.6,306.4 246.1,306.4 246.6,306.3 247.0,306.2 247.5,306.1 248.0,305.9 248.4,305.7 248.9,305.4 249.4,305.2 249.8,304.8 250.3,304.5 250.7,304.1 251.2,303.7 251.7,303.3 252.1,302.8 252.6,302.3 253.1,301.7 253.5,301.1 254.0,300.5 254.5,299.8 254.9,299.2 255.4,298.4 255.9,297.7 256.3,296.9 256.8,296.0 257.3,295.2 257.7,294.3 258.2,293.3 258.7,292.3 259.1,291.3 259.6,290.3 260.0,289.2 260.5,288.1 261.0,286.9 261.4,285.7 261.9,284.5 262.4,283.2 262.8,281.9 263.3,280.6 263.8,279.2 264.2,277.8 264.7,276.4 265.2,274.9 265.6,273.3 266.1,271.8 266.6,270.2 267.0,268.5 267.5,266.9 268.0,265.1 268.4,263.4 268.9,261.6" stroke="#000"/>
<path d="M230.8,260.8 231.2,262.6 231.7,264.4 232.1,266.2 232.6,268.0 233.1,269.7 233.5,271.4 234.0,273.1 234.5,274.8 234.9,276.5 235.4,278.1 235.9,279.7 236.3,281.3 236.8,282.8 237.3,284.4 237.7,285.9 238.2,287.3 238.7,288.8 239.1,290.2 239.6,291.6 240.1,293.0 240.5,294.3 241.0,295.6 241.4,296.9 241.9,298.1 242.4,299.3 242.8,300.5 243.3,301.6 243.8,302.8 244.2,303.8 244.7,304.9 245.2,305.9 245.6,306.9 246.1,307.8 246.6,308.8 247.0,309.6 247.5,310.5 248.0,311.3 248.4,312.1 248.9,312.8 249.4,313.5 249.8,314.2 250.3,314.8 250.7,315.4 251.2,316.0 251.7,316.5 252.1,317.0 252.6,317.4 253.1,317.8 253.5,318.2 254.0,318.6 254.5,318.8 254.9,319.1 255.4,319.3 255.9,319.5 256.3,319.7 256.8,319.8 257.3,319.8 257.7,319.9 258.2,319.8 258.7,319.8 259.1,319.7 259.6,319.6 260.0,319.4 260.5,319.2 261.0,318.9 261.4,318.7 261.9,318.3 262.4,318.0 262.8,317.6 263.3,317.1 263.8,316.6 264.2,316.1 264.7,315.5 265.2,314.9 265.6,314.3 266.1,313.6 266.6,312.9 267.0,312.2 267.5,311.4 268.0,310.5 268.4,309.6 268.9,308.7 269.3,307.8 269.8,306.8 270.3,305.8 270.7,304.7 271.2,303.6 271.7,302.5 272.1,301.3 272.6,300.1 273.1,298.8 273.5,297.5 274.0,296.2 274.5,294.8 274.9,293.4 275.4,292.0 275.9,290.5 276.3,289.0 276.8,287.5 277.3,285.9 277.7,284.3 278.2,282.7 278.6,281.0 279.1,279.3 279.6,277.6 280.0,275.8 280.5,274.0 281.0,272.1 281.4,270.3 281.9,268.4 282.4,266.4 282.8,264.5 283.3,262.5 283.8,260.4" stroke="#1080ff"/>
</g>
<path d="M205.1,274.0 V321.0 H285.8" fill="none" stroke="#757575" stroke-width="1.6"/>
<path d="M204.29999999999998,274.0 H285.8 V321.8" fill="none" stroke="#3c3c3c" stroke-width="1.1"/>
<line x1="205.1" y1="306.4" x2="208.6" y2="306.4" stroke="#222" stroke-width="0.9"/>
<line x1="285.8" y1="306.4" x2="282.3" y2="306.4" stroke="#222" stroke-width="0.9"/>
<text x="202.6" y="309.7" text-anchor="end" font-size="9.6" textLength="4.70" lengthAdjust="spacingAndGlyphs" font-family="Liberation Sans, sans-serif" fill="#111">0</text>
<line x1="205.1" y1="288.3" x2="208.6" y2="288.3" stroke="#222" stroke-width="0.9"/>
<line x1="285.8" y1="288.3" x2="282.3" y2="288.3" stroke="#222" stroke-width="0.9"/>
<text x="202.6" y="291.6" text-anchor="end" font-size="9.6" textLength="4.70" lengthAdjust="spacingAndGlyphs" font-family="Liberation Sans, sans-serif" fill="#111">1</text>
<line x1="212.4" y1="321.0" x2="212.4" y2="318.0" stroke="#222" stroke-width="0.9"/>
<line x1="212.4" y1="274.0" x2="212.4" y2="277.0" stroke="#222" stroke-width="0.9"/>
<text x="212.8" y="330.0" text-anchor="middle" font-size="9.6" textLength="11.48" lengthAdjust="spacingAndGlyphs" font-family="Liberation Sans, sans-serif" fill="#111">0.4</text>
<line x1="245.4" y1="321.0" x2="245.4" y2="318.0" stroke="#222" stroke-width="0.9"/>
<line x1="245.4" y1="274.0" x2="245.4" y2="277.0" stroke="#222" stroke-width="0.9"/>
<text x="245.8" y="330.0" text-anchor="middle" font-size="9.6" textLength="11.48" lengthAdjust="spacingAndGlyphs" font-family="Liberation Sans, sans-serif" fill="#111">0.5</text>
<line x1="278.4" y1="321.0" x2="278.4" y2="318.0" stroke="#222" stroke-width="0.9"/>
<line x1="278.4" y1="274.0" x2="278.4" y2="277.0" stroke="#222" stroke-width="0.9"/>
<text x="278.8" y="330.0" text-anchor="middle" font-size="9.6" textLength="11.48" lengthAdjust="spacingAndGlyphs" font-family="Liberation Sans, sans-serif" fill="#111">0.6</text>
</svg>
</body></html>
